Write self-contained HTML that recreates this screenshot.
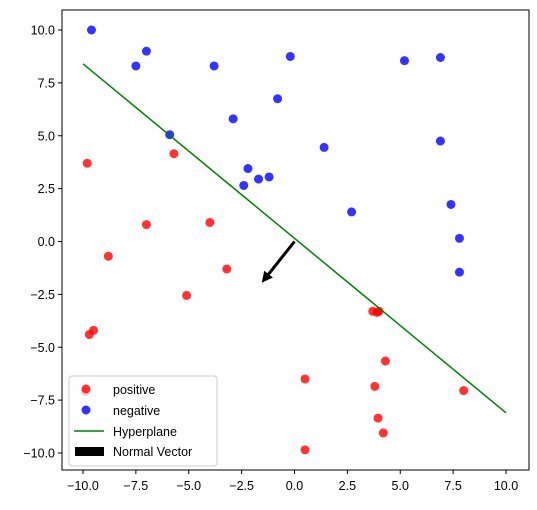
<!DOCTYPE html>
<html><head><meta charset="utf-8"><style>
body{margin:0;background:#fff;}
svg text{font-family:"Liberation Sans","DejaVu Sans",sans-serif;font-size:12.5px;fill:#000;}
</style></head><body>
<svg id="chart" width="537" height="505" viewBox="0 0 537 505">
<rect x="0" y="0" width="537" height="505" fill="#fff"/>
<g id="marks"></g>
<rect x="62" y="10" width="467" height="460" fill="none" stroke="#000" stroke-width="1"/>
<g id="axes"></g>
<g id="legend">
<rect x="69" y="376" width="148" height="90" rx="3" fill="#fff" fill-opacity="0.8" stroke="#ccc"/>
<circle cx="86" cy="389" r="4.5" fill="red" fill-opacity="0.8"/>
<text x="113" y="394">positive</text>
<circle cx="86" cy="410" r="4.5" fill="blue" fill-opacity="0.8"/>
<text x="113" y="415">negative</text>
<line x1="74" y1="431" x2="104" y2="431" stroke="green" stroke-width="1.5"/>
<text x="113" y="436">Hyperplane</text>
<rect x="75" y="447" width="29" height="9" fill="#000"/>
<text x="113" y="456">Normal Vector</text>
</g>
</svg>
<script>
const posX=[-9.8,-5.7,-7,-8.8,-4,-3.2,-5.1,-9.5,-9.7,-9.9,3.7,3.9,4,4.3,0.5,3.8,8,3.95,4.2,0.5];
const posY=[3.7,4.15,0.8,-0.7,0.9,-1.3,-2.55,-4.2,-4.4,-7.1,-3.3,-3.35,-3.3,-5.65,-6.5,-6.85,-7.05,-8.35,-9.05,-9.85];
const negX=[-9.6,-7,-7.5,-3.8,-0.2,5.2,6.9,-0.8,-2.9,-5.9,1.4,6.9,-2.2,-1.7,-1.2,-2.4,2.7,7.4,7.8,7.8];
const negY=[10,9,8.3,8.3,8.75,8.55,8.7,6.75,5.8,5.05,4.45,4.75,3.45,2.95,3.05,2.65,1.4,1.75,0.15,-1.45];
const lineX=[-10,10];
const lineY=[8.4,-8.1];
const normalVec=[-1.55,-1.95];
const xTicks=[-10,-7.5,-5,-2.5,0,2.5,5,7.5,10];
const yTicks=[-10,-7.5,-5,-2.5,0,2.5,5,7.5,10];
const xTickLabels=["\u221210.0","\u22127.5","\u22125.0","\u22122.5","0.0","2.5","5.0","7.5","10.0"];
const yTickLabels=["\u221210.0","\u22127.5","\u22125.0","\u22122.5","0.0","2.5","5.0","7.5","10.0"];
const NS="http://www.w3.org/2000/svg";
const sx=v=>294.5+v*21.15;
const sy=v=>241.5-v*21.15;
const marks=document.getElementById('marks'), axes=document.getElementById('axes');
function mk(t,a,p){const e=document.createElementNS(NS,t);for(const k in a)e.setAttribute(k,a[k]);p.appendChild(e);return e;}
posX.forEach((x,i)=>{const c=mk('circle',{cx:sx(x),cy:sy(posY[i]),r:4.5,fill:'red','fill-opacity':0.8},marks);

});
negX.forEach((x,i)=>{const c=mk('circle',{cx:sx(x),cy:sy(negY[i]),r:4.5,fill:'blue','fill-opacity':0.8},marks);

});
const hl=mk('line',{x1:sx(lineX[0]),y1:sy(lineY[0]),x2:sx(lineX[1]),y2:sy(lineY[1]),stroke:'green','stroke-width':1.5},marks);


(function(){const x0=sx(0),y0=sy(0),x1=sx(normalVec[0]),y1=sy(normalVec[1]);
const dx=x1-x0,dy=y1-y0,L=Math.hypot(dx,dy),ux=dx/L,uy=dy/L,px=-uy,py=ux;
const hw=1.5,hh=11,hwid=5.5;const bx=x1-ux*hh,by=y1-uy*hh;
const pts=[[x0+px*hw,y0+py*hw],[bx+px*hw,by+py*hw],[bx+px*hwid,by+py*hwid],[x1,y1],[bx-px*hwid,by-py*hwid],[bx-px*hw,by-py*hw],[x0-px*hw,y0-py*hw]];
const a=mk('polygon',{points:pts.map(p=>p.join(',')).join(' '),fill:'#000'},marks);

})();
xTicks.forEach((v,i)=>{mk('line',{x1:sx(v),y1:470,x2:sx(v),y2:474,stroke:'#000'},axes);
const t=mk('text',{x:sx(v),y:490,'text-anchor':'middle'},axes);t.textContent=xTickLabels[i];

});
yTicks.forEach((v,i)=>{mk('line',{x1:58,y1:sy(v),x2:62,y2:sy(v),stroke:'#000'},axes);
const t=mk('text',{x:55,y:sy(v)+4.5,'text-anchor':'end'},axes);t.textContent=yTickLabels[i];

});
</script>
</body></html>
